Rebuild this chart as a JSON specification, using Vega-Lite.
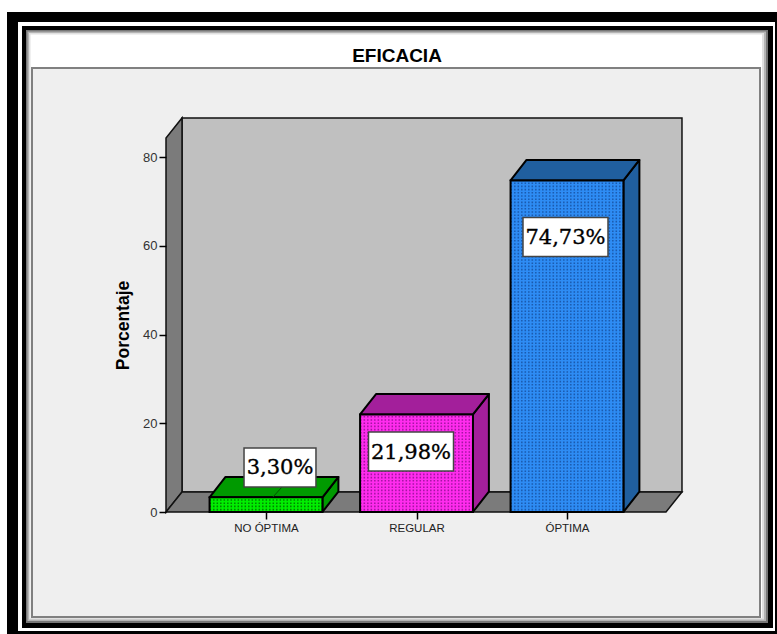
{
  "$schema": "https://vega.github.io/schema/vega-lite/v6.json",
  "width": 500,
  "height": 355,
  "autosize": {"type": "none"},
  "padding": {"left": 166, "top": 157, "right": 111, "bottom": 122},
  "background": "#ffffff",
  "config": {"view": {"stroke": null}},
  "title": {"text": "EFICACIA", "font": "Liberation Sans", "fontSize": 19, "fontWeight": "bold", "color": "#000000", "anchor": "middle", "dx": -19, "offset": -54, "zindex": 1},
  "datasets": {
    "eficacia": [
      {"categoria": "NO ÓPTIMA", "posicion": 1, "porcentaje": 3.30},
      {"categoria": "REGULAR", "posicion": 2, "porcentaje": 21.98},
      {"categoria": "ÓPTIMA", "posicion": 3, "porcentaje": 74.73}
    ],
    "vacio": [{}]
  },
  "resolve": {"scale": {"color": "independent"}},
  "layer": [
    {
      "data": {"name": "vacio"},
      "mark": {"type": "rect", "fill": "#000000"},
      "encoding": {
        "x": {"datum": -0.7209, "type": "quantitative", "scale": {"domain": [0.33555, 3.6578], "nice": false, "zero": false}},
        "x2": {"datum": 4.3953},
        "y": {"datum": 112.68, "type": "quantitative", "scale": {"domain": [0, 80], "nice": false, "zero": false}},
        "y2": {"datum": -27.49}
      }
    },
    {
      "data": {"name": "vacio"},
      "mark": {"type": "rect", "fill": "#ffffff"},
      "encoding": {
        "x": {"datum": -0.6478, "type": "quantitative"}, "x2": {"datum": 4.3821},
        "y": {"datum": 110.42, "type": "quantitative"}, "y2": {"datum": -26.82}
      }
    },
    {
      "data": {"name": "vacio"},
      "mark": {"type": "rect", "fill": "#000000"},
      "encoding": {
        "x": {"datum": -0.6213, "type": "quantitative"}, "x2": {"datum": 4.3688},
        "y": {"datum": 109.52, "type": "quantitative"}, "y2": {"datum": -26.14}
      }
    },
    {
      "data": {"name": "vacio"},
      "mark": {"type": "rect", "fill": "#777777"},
      "encoding": {
        "x": {"datum": -0.5947, "type": "quantitative"}, "x2": {"datum": 4.3355},
        "y": {"datum": 108.62, "type": "quantitative"}, "y2": {"datum": -25.01}
      }
    },
    {
      "data": {"name": "vacio"},
      "mark": {"type": "rect", "fill": "#b4b4b4"},
      "encoding": {
        "x": {"datum": -0.5847, "type": "quantitative"}, "x2": {"datum": 4.3223},
        "y": {"datum": 108.28, "type": "quantitative"}, "y2": {"datum": -24.56}
      }
    },
    {
      "data": {"name": "vacio"},
      "mark": {"type": "rect", "fill": "#e0e0e0"},
      "encoding": {
        "x": {"datum": -0.5748, "type": "quantitative"}, "x2": {"datum": 4.3090},
        "y": {"datum": 107.94, "type": "quantitative"}, "y2": {"datum": -24.23}
      }
    },
    {
      "data": {"name": "vacio"},
      "mark": {"type": "rect", "fill": "#ffffff"},
      "encoding": {
        "x": {"datum": -0.5648, "type": "quantitative"}, "x2": {"datum": 4.2957},
        "y": {"datum": 107.61, "type": "quantitative"}, "y2": {"datum": -23.89}
      }
    },
    {
      "data": {"name": "vacio"},
      "mark": {"type": "rect", "fill": "#efefef", "stroke": "#808080", "strokeWidth": 2},
      "encoding": {
        "x": {"datum": -0.5548, "type": "quantitative"}, "x2": {"datum": 4.2824},
        "y": {"datum": 100.06, "type": "quantitative"}, "y2": {"datum": -23.66}
      }
    },
    {
      "data": {"name": "vacio"},
      "mark": {"type": "rect", "fill": "#c0c0c0", "stroke": "#111111", "strokeWidth": 1.5},
      "encoding": {
        "x": {"datum": 0.4419, "type": "quantitative"}, "x2": {"datum": 3.764},
        "y": {"datum": 4.5, "type": "quantitative"}, "y2": {"datum": 88.8}
      }
    },
    {
      "data": {"values": [{"x": 0.33555, "base": 0, "alto": 84.3}, {"x": 0.4419, "base": 4.5, "alto": 88.8}]},
      "mark": {"type": "area", "orient": "vertical", "fill": "#7b7b7b", "stroke": "#111111", "strokeWidth": 1.5},
      "encoding": {
        "x": {"field": "x", "type": "quantitative"},
        "y": {"field": "base", "type": "quantitative"},
        "y2": {"field": "alto"}
      }
    },
    {
      "data": {"values": [{"y": 0, "inicio": 0.33555, "fin": 3.6578}, {"y": 4.5, "inicio": 0.4419, "fin": 3.764}]},
      "mark": {"type": "area", "orient": "horizontal", "fill": "#7b7b7b", "stroke": "#111111", "strokeWidth": 1.5},
      "encoding": {
        "y": {"field": "y", "type": "quantitative"},
        "x": {"field": "inicio", "type": "quantitative"},
        "x2": {"field": "fin"}
      }
    },
    {
      "data": {"name": "eficacia"},
      "transform": [
        {"calculate": "[0, 1]", "as": "t"},
        {"flatten": ["t"]},
        {"calculate": "datum.posicion + 0.375 + datum.t * 0.106", "as": "x"},
        {"calculate": "datum.t * 4.6", "as": "base"},
        {"calculate": "datum.porcentaje + datum.t * 4.6", "as": "alto"}
      ],
      "mark": {"type": "area", "orient": "vertical", "stroke": "#000000", "strokeWidth": 2, "strokeJoin": "round"},
      "encoding": {
        "x": {"field": "x", "type": "quantitative"},
        "y": {"field": "base", "type": "quantitative"},
        "y2": {"field": "alto"},
        "color": {"field": "categoria", "type": "nominal", "legend": null, "scale": {"domain": ["NO ÓPTIMA", "REGULAR", "ÓPTIMA"], "range": ["#009a00", "#a31f9b", "#205f9f"]}}
      }
    },
    {
      "data": {"name": "eficacia"},
      "transform": [
        {"calculate": "[0, 1]", "as": "t"},
        {"flatten": ["t"]},
        {"calculate": "datum.porcentaje + datum.t * 4.6", "as": "y"},
        {"calculate": "datum.posicion - 0.375 + datum.t * 0.106", "as": "inicio"},
        {"calculate": "datum.posicion + 0.375 + datum.t * 0.106", "as": "fin"}
      ],
      "mark": {"type": "area", "orient": "horizontal", "stroke": "#000000", "strokeWidth": 2, "strokeJoin": "round"},
      "encoding": {
        "y": {"field": "y", "type": "quantitative"},
        "x": {"field": "inicio", "type": "quantitative"},
        "x2": {"field": "fin"},
        "color": {"field": "categoria", "type": "nominal", "legend": null, "scale": {"domain": ["NO ÓPTIMA", "REGULAR", "ÓPTIMA"], "range": ["#009a00", "#a31f9b", "#205f9f"]}}
      }
    },
    {
      "data": {"name": "eficacia"},
      "transform": [
        {"calculate": "datum.posicion - 0.375", "as": "inicio"},
        {"calculate": "datum.posicion + 0.375", "as": "fin"},
        {"calculate": "0", "as": "base"}
      ],
      "mark": {"type": "rect"},
      "encoding": {
        "x": {"field": "inicio", "type": "quantitative",
          "axis": {"values": [1, 2, 3], "zindex": 1, "title": null, "grid": false, "domain": false, "tickColor": "#000000", "tickSize": 7, "tickWidth": 1.5, "labelFont": "Liberation Sans", "labelFontSize": 11.5, "labelColor": "#222222", "labelPadding": 3, "labelOverlap": false, "labelFlush": false,
            "labelExpr": "datum.value == 1 ? 'NO ÓPTIMA' : datum.value == 2 ? 'REGULAR' : 'ÓPTIMA'"}},
        "x2": {"field": "fin"},
        "y": {"field": "base", "type": "quantitative",
          "axis": {"values": [0, 20, 40, 60, 80], "zindex": 1, "title": "Porcentaje", "titleFont": "Liberation Sans", "titleFontSize": 17.5, "titleFontWeight": "bold", "titleColor": "#000000", "titleX": -34, "titleY": 168, "grid": false, "domain": false, "tickColor": "#000000", "tickSize": 7, "tickWidth": 1.5, "labelFont": "Liberation Sans", "labelFontSize": 13, "labelColor": "#333333", "labelPadding": 2, "labelFlush": false}},
        "y2": {"field": "porcentaje"},
        "color": {"field": "categoria", "type": "nominal", "legend": null, "scale": {"domain": ["NO ÓPTIMA", "REGULAR", "ÓPTIMA"], "range": ["#00ee00", "#ff2cee", "#2e8cf4"]}}
      }
    },
    {
      "data": {"name": "eficacia"},
      "transform": [
        {"calculate": "datum.posicion - 0.375", "as": "inicio"},
        {"calculate": "datum.posicion + 0.375", "as": "fin"},
        {"calculate": "datum.porcentaje / 2", "as": "mitad"},
        {"calculate": "datum.porcentaje * 4.4375", "as": "grosor"}
      ],
      "mark": {"type": "rule", "strokeDash": [1.5, 2], "opacity": 0.8},
      "encoding": {
        "x": {"field": "inicio", "type": "quantitative"},
        "x2": {"field": "fin"},
        "y": {"field": "mitad", "type": "quantitative"},
        "size": {"field": "grosor", "type": "quantitative", "scale": null, "legend": null},
        "color": {"field": "categoria", "type": "nominal", "legend": null, "scale": {"domain": ["NO ÓPTIMA", "REGULAR", "ÓPTIMA"], "range": ["#006600", "#8f1090", "#174f9e"]}}
      }
    },
    {
      "data": {"name": "eficacia"},
      "transform": [
        {"calculate": "0", "as": "base"}
      ],
      "mark": {"type": "rule", "strokeDash": [1.6, 1.6], "size": 112},
      "encoding": {
        "x": {"field": "posicion", "type": "quantitative"},
        "y": {"field": "base", "type": "quantitative"},
        "y2": {"field": "porcentaje"},
        "color": {"field": "categoria", "type": "nominal", "legend": null, "scale": {"domain": ["NO ÓPTIMA", "REGULAR", "ÓPTIMA"], "range": ["#00ee00", "#ff2cee", "#2e8cf4"]}}
      }
    },
    {
      "data": {"name": "eficacia"},
      "transform": [
        {"calculate": "datum.posicion - 0.375", "as": "inicio"},
        {"calculate": "datum.posicion + 0.375", "as": "fin"},
        {"calculate": "0", "as": "base"}
      ],
      "mark": {"type": "rect", "filled": false, "stroke": "#000000", "strokeWidth": 2},
      "encoding": {
        "x": {"field": "inicio", "type": "quantitative"},
        "x2": {"field": "fin"},
        "y": {"field": "base", "type": "quantitative"},
        "y2": {"field": "porcentaje"}
      }
    },
    {
      "data": {"values": [{"x": 1.0465, "y": 3.38, "x2": 1.106, "y2": 5.63}]},
      "mark": {"type": "rule", "color": "#005500", "strokeWidth": 1},
      "encoding": {
        "x": {"field": "x", "type": "quantitative"},
        "y": {"field": "y", "type": "quantitative"},
        "x2": {"field": "x2"},
        "y2": {"field": "y2"}
      }
    },
    {
      "data": {"name": "eficacia"},
      "transform": [
        {"calculate": "{'NO ÓPTIMA': 1.093, 'REGULAR': 1.9635, 'ÓPTIMA': 2.99}[datum.categoria]", "as": "cx"},
        {"calculate": "{'NO ÓPTIMA': 10.03, 'REGULAR': 13.63, 'ÓPTIMA': 61.97}[datum.categoria]", "as": "cy"},
        {"calculate": "datum.posicion == 1 ? 0.239 : 0.2824", "as": "media"},
        {"calculate": "datum.cx - datum.media", "as": "x0"},
        {"calculate": "datum.cx + datum.media", "as": "x1"},
        {"calculate": "datum.cy - 4.39", "as": "y0"},
        {"calculate": "datum.cy + 4.39", "as": "y1"}
      ],
      "mark": {"type": "rect", "fill": "#ffffff", "stroke": "#444444", "strokeWidth": 1.5},
      "encoding": {
        "x": {"field": "x0", "type": "quantitative"},
        "x2": {"field": "x1"},
        "y": {"field": "y0", "type": "quantitative"},
        "y2": {"field": "y1"}
      }
    },
    {
      "data": {"name": "eficacia"},
      "transform": [
        {"calculate": "{'NO ÓPTIMA': 1.093, 'REGULAR': 1.9635, 'ÓPTIMA': 2.99}[datum.categoria]", "as": "cx"},
        {"calculate": "{'NO ÓPTIMA': 10.03, 'REGULAR': 13.63, 'ÓPTIMA': 61.97}[datum.categoria]", "as": "cy"},
        {"calculate": "replace(format(datum.porcentaje, '.2f'), '.', ',') + '%'", "as": "rotulo"}
      ],
      "mark": {"type": "text", "font": "DejaVu Serif", "fontSize": 21, "fontWeight": "normal", "color": "#000000", "stroke": "#000000", "strokeWidth": 0.35, "align": "center", "baseline": "middle", "dy": 1},
      "encoding": {
        "x": {"field": "cx", "type": "quantitative"},
        "y": {"field": "cy", "type": "quantitative"},
        "text": {"field": "rotulo"}
      }
    }
  ]
}
